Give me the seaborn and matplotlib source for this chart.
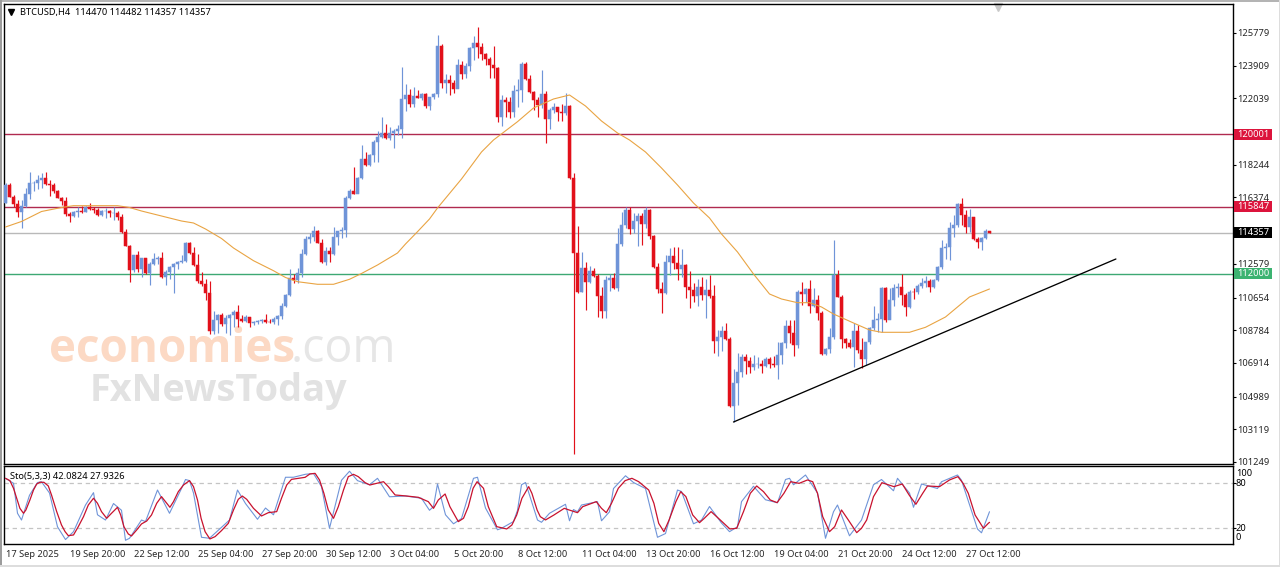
import numpy as np
import pandas as pd
import matplotlib
matplotlib.use('Agg')
import matplotlib.pyplot as plt
from matplotlib.patches import Rectangle
import seaborn as sns

W, H = 1280, 567

# candles, H4 bars, open of each bar = close of the one before
first_open = 116040
closes = [117090,116421,116001,115563,115887,116554,117183,117221,117355,117488,
117145,117088,116764,116364,116173,115430,115315,115563,115620,115525,
115830,115696,115658,115353,115601,115620,115506,115506,115277,114381,
113619,112227,113085,112285,112895,112037,112570,112875,112895,111808,
112113,112418,112570,112666,112761,113752,113180,112513,111617,111427,
110931,108758,109368,109635,109140,109502,109654,109845,109406,109292,
109559,109178,109254,109292,109349,109254,109235,109426,109597,110169,
110798,111751,111656,112037,113143,114000,114134,114458,113791,112666,
113314,113162,114096,114458,114515,116364,116764,116593,117507,118575,
118213,118803,119527,119813,120042,119794,120080,120194,120290,122005,
122234,121719,122177,122081,122291,121605,122100,122291,125036,122901,
123092,122901,122577,123949,123435,123892,124940,125226,124959,124578,
124273,123949,123778,120995,121948,121815,121243,122463,122520,123987,
123149,122405,121948,121662,122272,120862,121376,121529,121281,121186,
121605,117469,113219,110951,112342,111561,112171,111904,110760,109883,
111656,111770,111199,113715,114801,115659,114553,115030,115316,114858,
115659,114172,112380,111141,110894,112685,113028,112647,112285,112514,
111275,111084,110741,111237,110798,111084,110741,108187,108378,108740,
108282,104451,105786,106415,107272,107005,106662,106853,106853,106738,
107120,106853,106777,107368,108073,109026,108606,107939,110989,110836,
111122,110189,110512,109788,107425,107711,108378,111942,110703,108263,
108073,107806,108759,107654,107120,108092,108892,109369,109426,111180,
109369,110512,111180,111237,110798,110131,110989,110951,111313,111503,
111599,111275,111656,112380,113467,113562,114610,114801,116002,115354,
114706,115277,113981,113810,114077,114470,114357]
highs = [117180,117183,116516,116230,116230,116897,117812,117316,117660,117755,
117812,117374,117221,116783,116421,116382,115525,115620,115849,115887,
115887,116039,115849,115754,115658,115773,115658,115811,115601,115430,
114553,113657,113085,113333,112895,112933,112704,113180,113028,113238,
112227,112456,112647,112742,113085,113848,113809,113562,113123,112132,
111694,111617,109902,109711,109750,109654,109711,109940,110207,109654,
109654,109559,109330,109368,109406,109692,109406,109521,109654,110321,
110855,112266,111999,112323,113410,114172,114324,114744,114515,113981,
113562,113524,114667,114477,114667,116459,116840,118136,117565,119375,
118956,118861,119661,120194,120957,120576,120385,120271,120518,123854,
122863,122558,122710,122520,122329,122367,122139,122329,125665,125150,
123435,123378,123092,124273,124178,124083,124998,125608,126103,125226,
124654,124388,125036,123854,122234,122139,122139,122806,123130,124102,
124140,123378,122482,122100,123663,122482,121471,121757,121567,121719,
122367,121662,117755,114744,113238,112666,112457,112361,111980,111237,
111904,112000,112037,114610,115525,115811,115849,115468,115468,115468,
115811,115697,114229,112609,111523,113066,113467,113524,113524,113410,
112571,112171,111466,111713,111847,111713,111942,111370,108797,109026,
109178,108416,106548,107463,107425,107425,107234,107367,107234,107082,
107272,107272,107310,108130,108130,109369,109369,109369,111084,111561,
111180,111656,111180,110798,109902,107749,108892,113943,112228,110798,
108321,108263,109178,109083,108321,108130,108950,110188,109750,111275,
111237,111180,111427,111465,111999,110894,111084,111180,111427,111751,
111885,111694,111694,112457,113943,113753,114992,115375,116078,116326,
115659,115697,115277,114134,114134,114591,114482]
lows = [116040,116382,115811,115277,114648,115849,116287,116745,116859,116897,
117088,116478,116611,116364,115944,115315,114972,115277,115277,115468,
115525,115658,115506,115315,115315,115220,115277,115086,115086,114324,
113619,111560,112132,112132,111846,111999,111370,112513,112551,111770,
111370,111713,110931,112285,112609,112666,113142,112456,111503,111312,
110512,108568,108549,108606,109025,108606,108511,108987,108987,109235,
109235,108987,109102,109140,109216,109216,109197,109140,109102,109406,
110093,110760,111504,111466,111809,113066,113753,113905,113753,112647,
112533,112704,113085,113657,114038,114134,116269,116574,116612,117412,
118175,118175,118400,118422,119756,119718,119661,119184,119947,119756,
121338,121567,121567,122043,121948,121471,121376,122024,122139,122615,
122329,122234,122329,122615,123149,123187,123606,124235,124330,124235,
123949,123225,123187,120709,120461,120957,120938,120995,121567,121853,
123092,122367,121376,120995,121471,119508,120271,121186,120766,120766,
121090,117412,101706,110894,110951,109941,111466,111847,109559,109464,
109502,111027,111160,111046,113619,114648,114286,114324,113600,113657,
114610,114019,112323,110932,109788,110837,111942,112266,111656,111809,
110646,110074,110417,110188,110512,109464,110608,107501,107329,107615,
108225,104413,103517,104508,106128,106262,106357,106510,106605,106357,
106700,106643,106662,105995,106853,107749,108035,107310,107749,110227,
110417,109788,110131,109369,107368,107368,107501,108282,110665,107749,
107749,107749,106700,107463,106605,106796,107996,108797,108702,108664,
109274,109426,110169,110703,110227,109617,110036,110551,110855,111180,
111275,110989,111218,111618,112304,112838,112800,114134,114706,114801,
114363,114420,113943,113467,113371,113981,114357]

# moving average, read at these bars
ma_bars = [0,4,9,14,17,28,31,34,39,44,47,50,54,57,62,67,70,73,78,82,86,89,93,98,
100,103,106,108,114,119,122,128,132,137,141,145,149,153,156,160,164,168,172,176,
179,183,187,191,194,198,201,204,207,212,216,219,226,230,235,238,241,246]
ma_values = [114686,115001,115572,115801,115904,115904,115801,115601,115315,115029,
114915,114572,114029,113485,112759,112187,111799,111558,111410,111410,111696,
112027,112513,113199,113714,114417,115144,115773,117431,118975,119661,120707,
121491,122005,122234,121605,120747,120061,119661,118975,118060,117088,116058,
115201,114286,113257,111999,110855,110569,110358,110358,110112,109711,109197,
108797,108665,108665,108951,109540,110112,110684,111141]

trend_bars = [182, 277.6]
trend_prices = [103536, 112856]

# stochastic %K turning points and %D curve
k_bars = [0,2,3,4,6,8,9,11,13,15,17,20,22,23,25,27,29,30,31,34,35,38,41,44,45,46,47,49,51,56,58,60,63,65,67,70,72,75,77,79,81,84,86,88,91,93,96,100,104,106,107,108,110,112,114,117,118,120,123,
124,127,128,129,130,133,134,136,140,141,142,143,144,148,149,151,152,155,157,160,163,165,168,169,172,174,176,179,181,183,184,187,190,193,195,196,197,200,203,205,207,208,211,214,217,219,222,223,226,227,229,233,234,238,239,243,244,246]
k_values = [86.6,80,40,31,64,81,82,67,22,5,15.5,51,67.5,38,31,53,44,4,6.7,31,29,71,40,73,85,83.5,67,8,6.7,31,71,53,32,47,38,88,88,92,93,75.5,20,84,96,83.5,78,86.6,62,63,60,44,49,79,38,26,33,86.6,88,47,18,
20,29,44,78,81,31,28,40,52,30,45,42,51,55.5,30,42,73,90,81,73,8,13,71,69,26,31,49,27,15.5,22,55.5,76,58,54,85,86.6,78,91,67,6.7,42,51,10,31,78,85,70,86.6,67,48,79,73,82,91,84,19,14,42.08]
d_bars = [0,1.1,2,2.8,3.6,4.5,5.1,6.1,7,7.8,8.6,9.6,10.7,11.5,12.8,14,14.9,15.7,17,18.2,19.5,20.7,22,23,24,25.3,26.5,28,28.8,29.6,
30.7,31.5,32.8,34,35.3,36.5,37.8,39,40,41.1,42,43.2,44.5,46,47,48,48.9,49.9,51.1,52.4,54,55.7,57,58.2,59.2,60.3,62,64,65.7,67.8,
69,70.3,71.5,73.2,74.9,76.1,77.4,78.5,79.6,80.7,82,83.2,84.5,85.7,87,88.2,89.9,91.1,92.8,94.5,95.7,97.4,100.3,103.2,105.7,107,108.2,109.9,111.1,113.2,
114.5,115.7,116.9,117.9,119.5,120.7,122.8,125.3,126.6,127.8,129.1,130.8,131.6,132.9,133.7,135,137.1,139.7,140.9,143,144.3,147.7,149,150.2,151.5,153.2,154.9,156.6,
158.3,160.8,162.1,163.3,164.6,165.9,167.6,168.8,170.1,171.8,173.5,174.7,176.4,178.5,181.1,182.8,184.5,186.2,187.8,189.5,191.2,192.9,194.6,196.3,198.4,200.5,201.8,203,
204.3,206,207.3,209,210.7,212.8,214,215.3,217,219.1,222.1,224.2,225.9,227.6,229.3,230.5,233.5,236,238.1,239.4,240.7,242.4,244.5,245.7,246]
d_values = [86.6,83.5,73.3,59.9,46.6,40,44.4,57.7,71,79,81.3,81.3,76.4,64.4,42.2,24.4,15.5,10.2,11.1,22.2,35.5,51,60,53.3,42.2,33.3,40,48,37.7,22.2,
12.4,9.8,17.8,25.8,29.7,37.7,53.3,62.2,55.5,48,55.5,68.8,77.7,83.5,75.5,57.7,33.3,15.5,5.8,8.9,16.9,26.6,44.4,58.6,63,58.6,46.6,36.4,40.8,42.2,
60,77.7,85.2,86.6,87.9,92.4,93.2,84.4,66.6,44.4,33.3,48.8,71,88.8,91.9,88.8,80.8,77.7,79.9,82.1,75.5,64.4,63,61.3,55.5,46.6,57.7,65.7,48.8,28.9,
33.3,48.8,73.3,82.1,73.3,48.8,22.2,19.1,24.4,37.7,59.9,75.5,66.6,44.4,35.5,31.1,37.7,46.6,44.4,40.8,48.8,55.5,46.6,40.8,53.3,73.3,83.5,86.6,
82.1,71,53.3,26.6,15.5,31.1,55.5,68.8,62.2,37.7,27.5,33.3,42.2,32,19.1,20,42.2,66.6,76.4,68.8,57.7,54.2,66.6,82.1,79.9,84.4,82.1,66.6,
35.5,15.5,22.2,44.4,31.1,14.2,20,31.1,62.2,80.8,75.5,79,64.4,52,66.6,76.4,75.5,84.4,88.8,79.9,66.6,37.7,20,26.6,27.93]

# horizontal levels and axis labels
level_prices = [120001, 115847, 114357, 112000]
level_colors = ['#b02a50', '#b02a50', '#b9b9b9', '#3da873']
box_colors = ['#dc143c', '#dc143c', '#000000', '#3cb371']
price_ticks = [125779,123909,122039,118244,116374,112579,110654,108784,106914,104989,103119,101249]
time_labels = ['17 Sep 2025','19 Sep 20:00','22 Sep 12:00','25 Sep 04:00','27 Sep 20:00',
               '30 Sep 12:00','3 Oct 04:00','5 Oct 20:00','8 Oct 12:00','11 Oct 04:00',
               '13 Oct 20:00','16 Oct 12:00','19 Oct 04:00','21 Oct 20:00','24 Oct 12:00','27 Oct 12:00']

sns.set_style('white')
plt.rcParams['font.family'] = ['Noto Sans', 'DejaVu Sans']
UP = '#6f94d8'
DOWN = '#e2101a'
TXT = 6.7


def fx(x):
    return x / W


def fy(y):
    return 1 - y / H


fig = plt.figure(figsize=(W / 100, H / 100), dpi=100, facecolor='white')
ax = fig.add_axes([fx(4), fy(464), fx(1229), 460 / H])
ax2 = fig.add_axes([fx(4), fy(544), fx(1229), 78 / H])

# window border of the terminal
for x0, y0, w0, h0, c0 in [(0, 0, W, 2, '#b4b4b4'), (0, 0, 2, H, '#9c9c9c'),
                           (0, 565, W, 2, '#dddddd'), (W - 1, 0, 1, H, '#dddddd')]:
    fig.add_artist(Rectangle((fx(x0), fy(y0 + h0)), w0 / W, h0 / H, transform=fig.transFigure,
                             facecolor=c0, edgecolor='none'))

df = pd.DataFrame({'close': closes, 'high': highs, 'low': lows})
df['open'] = df['close'].shift(1).fillna(first_open)
df['bar'] = np.arange(len(df))
df['color'] = np.where(df['close'] >= df['open'], UP, DOWN)

# watermark goes under everything
ax.text(0.0365, 0.2217, 'economies', transform=ax.transAxes, fontsize=33, color='#fcd9c4',
        family='Open Sans', weight='bold', va='baseline', zorder=0)
ax.text(0.2330, 0.2217, '.com', transform=ax.transAxes, fontsize=33.5, color='#e6e6e6',
        family='Open Sans', va='baseline', zorder=0)
ax.text(0.0695, 0.1370, 'FxNewsToday', transform=ax.transAxes, fontsize=27.3, color='#e2e2e2',
        family='Open Sans', weight='bold', va='baseline', zorder=0)

for price, col in zip(level_prices, level_colors):
    ax.axhline(price, color=col, lw=1.0, zorder=1)

ax.vlines(df['bar'], df['low'], df['high'], colors=df['color'], lw=0.85, zorder=3)
ax.bar(df['bar'], (df['close'] - df['open']).abs(), bottom=df[['open', 'close']].min(axis=1),
       width=0.66, color=df['color'], edgecolor=df['color'], linewidth=0.35, zorder=3)

sns.lineplot(x=ma_bars, y=ma_values, ax=ax, color='#e9a443', lw=0.8, zorder=4, estimator=None)
sns.lineplot(x=trend_bars, y=trend_prices, ax=ax, color='black', lw=0.95, zorder=4, estimator=None)

ax.set_xlim(-0.375, 306.875)
ax.set_ylim(101134, 127437)
ax.set_xticks([])
ax.yaxis.tick_right()
ax.set_yticks(price_ticks)
ax.set_yticklabels([str(p) for p in price_ticks])
ax.tick_params(axis='y', direction='out', length=2.2, width=0.8, pad=0.8, labelsize=TXT, color='black')
ax.set_ylabel('')

sns.lineplot(x=k_bars, y=k_values, ax=ax2, color=UP, lw=0.8, estimator=None, zorder=3)
sns.lineplot(x=d_bars, y=d_values, ax=ax2, color='#c8122e', lw=0.9, estimator=None, zorder=4)
for lev in (80, 20):
    ax2.axhline(lev, color='#c4c4c4', lw=0.9, dashes=(3.5, 3), zorder=1)
ax2.set_xlim(-0.375, 306.875)
ax2.set_ylim(-0.93, 103)
ax2.yaxis.tick_right()
ax2.set_yticks([80, 20])
ax2.set_yticklabels(['', ''])
ax2.tick_params(axis='y', direction='out', length=2, width=0.8, color='black')
ax2.set_xticks(np.arange(len(time_labels)) * 16)
ax2.set_xticklabels(time_labels, ha='left', fontsize=TXT)
ax2.tick_params(axis='x', direction='out', length=3, width=0.8, pad=1.5, color='black')

for a in (ax, ax2):
    for s in a.spines.values():
        s.set_color('black')
        s.set_linewidth(1.0)

# sub window labels sit a bit off their levels
for txt, y in [('100', 473.5), ('80', 484), ('20', 528.5), ('0', 537.5)]:
    fig.text(fx(1236), fy(y), txt, fontsize=TXT, va='center', ha='left', color='black')

# price boxes on the axis
for price, box in zip(level_prices, box_colors):
    y = 33 + (125779 - price) / 57.18
    fig.add_artist(Rectangle((fx(1234), fy(y + 5.5)), 38 / W, 11 / H, transform=fig.transFigure,
                             facecolor=box, edgecolor='none', zorder=5))
    fig.text(fx(1237.5), fy(y), str(price), fontsize=TXT, color='white', va='center', ha='left', zorder=6)

# headers
fig.text(fx(20), fy(12.5), 'BTCUSD,H4  114470 114482 114357 114357', fontsize=TXT, va='center', ha='left', color='black')
ax.plot([0.0060], [0.9825], marker='v', ms=3.8, color='black', transform=ax.transAxes, clip_on=False)
ax.plot([0.8085], [0.9945], marker='v', ms=5.5, color='#c9c9c9', transform=ax.transAxes, clip_on=False)
ax2.text(0.0050, 0.865, 'Sto(5,3,3) 42.0824 27.9326', transform=ax2.transAxes, fontsize=TXT, va='center', ha='left', color='black')

fig.savefig('out.png', dpi=100, facecolor='white')
